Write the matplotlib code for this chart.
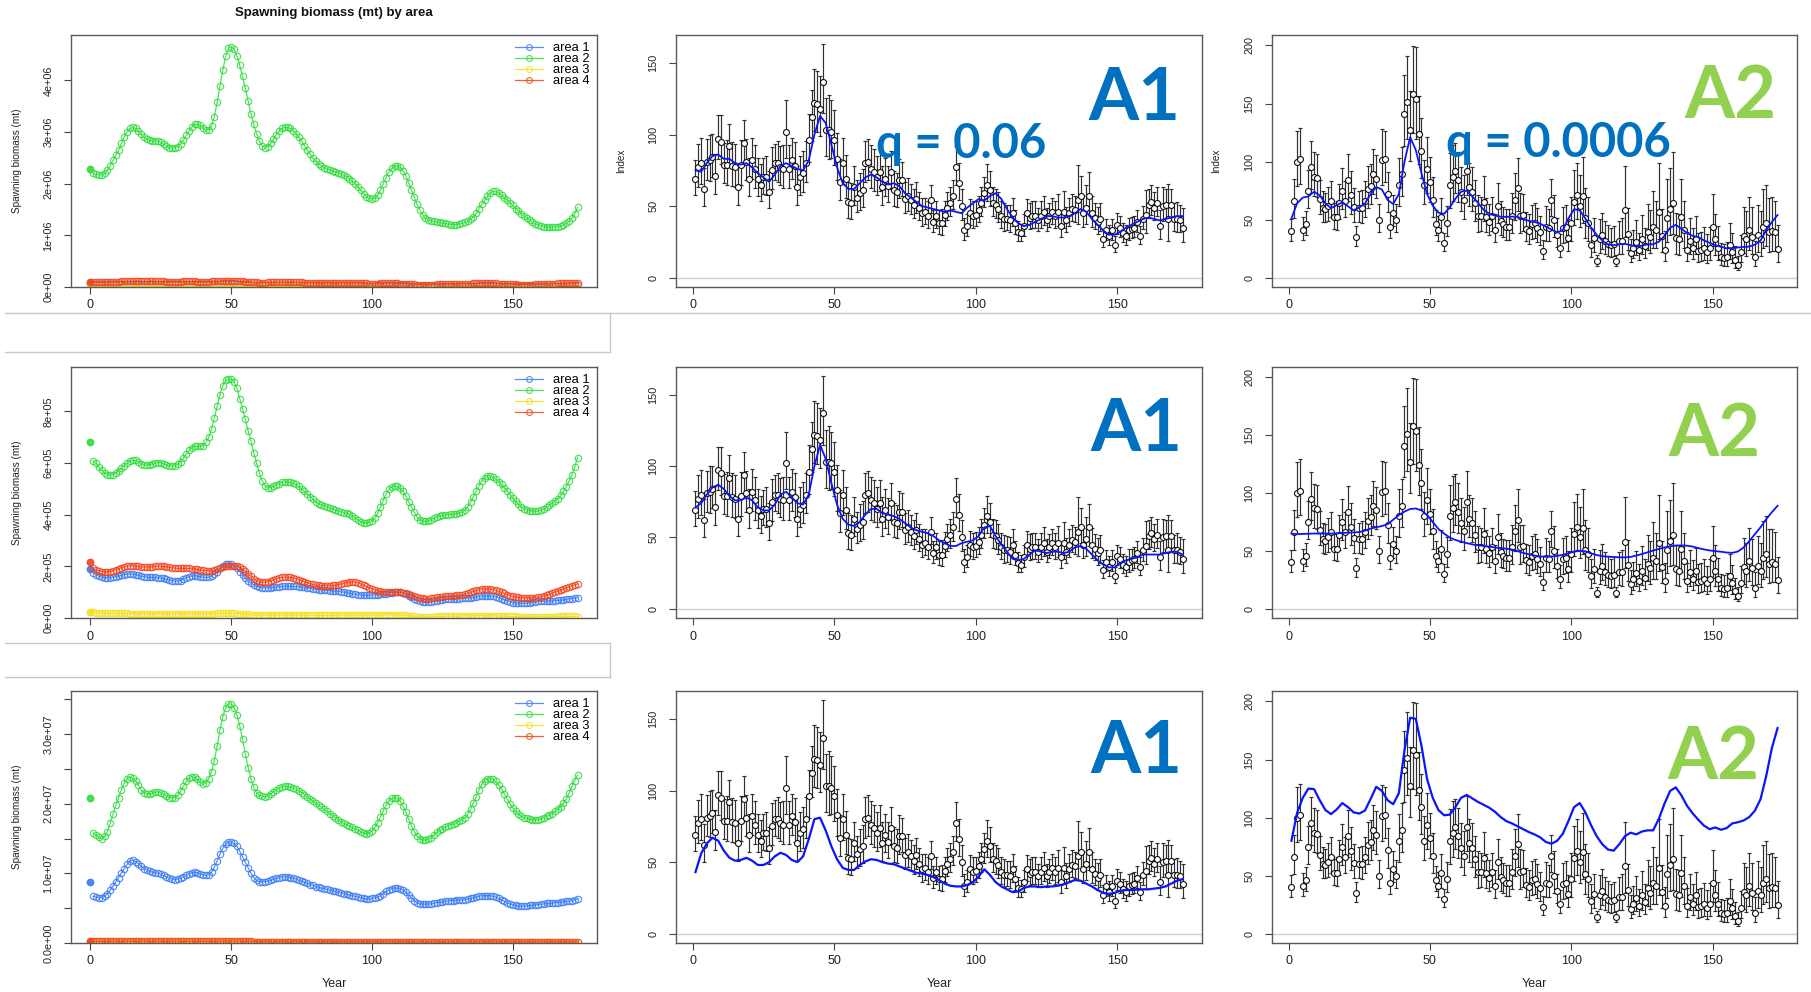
import numpy as np
import matplotlib
matplotlib.use("Agg")
import matplotlib.pyplot as plt
from matplotlib.lines import Line2D

plt.rcParams["font.family"] = ["Liberation Sans", "DejaVu Sans"]

W, H = 1811, 992

years = np.arange(1, 174)          # model / survey years
fit_years = np.arange(1, 174, 2)   # expected index, every second year

area_names = ["area 1", "area 2", "area 3", "area 4"]
area_colors = ["#3b7cf4", "#2fdc3c", "#f3e01c", "#f5431c"]

# ---------------- spawning biomass by area ----------------
# scenario 1, units of 1e5 mt
sb1_virgin = [0.60, 22.8, 0.25, 1.00]
sb1_area1 = [
    0.52, 0.50, 0.49, 0.49, 0.50, 0.51, 0.52, 0.54, 0.55, 0.57,
    0.58, 0.59, 0.60, 0.60, 0.60, 0.59, 0.58, 0.57, 0.56, 0.56,
    0.56, 0.56, 0.56, 0.56, 0.55, 0.54, 0.53, 0.52, 0.51, 0.51,
    0.51, 0.52, 0.53, 0.54, 0.55, 0.55, 0.55, 0.54, 0.54, 0.53,
    0.53, 0.54, 0.56, 0.59, 0.62, 0.66, 0.69, 0.71, 0.72, 0.72,
    0.70, 0.67, 0.63, 0.59, 0.55, 0.51, 0.48, 0.46, 0.45, 0.44,
    0.44, 0.44, 0.45, 0.46, 0.47, 0.47, 0.48, 0.48, 0.48, 0.48,
    0.48, 0.47, 0.46, 0.45, 0.44, 0.43, 0.42, 0.41, 0.40, 0.39,
    0.38, 0.38, 0.37, 0.37, 0.36, 0.36, 0.35, 0.35, 0.35, 0.34,
    0.34, 0.33, 0.33, 0.32, 0.31, 0.30, 0.30, 0.29, 0.29, 0.29,
    0.29, 0.30, 0.31, 0.32, 0.33, 0.34, 0.35, 0.35, 0.35, 0.34,
    0.32, 0.30, 0.28, 0.26, 0.24, 0.23, 0.22, 0.21, 0.21, 0.21,
    0.21, 0.22, 0.22, 0.23, 0.23, 0.23, 0.24, 0.24, 0.24, 0.25,
    0.25, 0.25, 0.26, 0.26, 0.27, 0.28, 0.29, 0.30, 0.30, 0.31,
    0.31, 0.30, 0.30, 0.29, 0.28, 0.26, 0.25, 0.24, 0.23, 0.22,
    0.21, 0.21, 0.20, 0.20, 0.20, 0.20, 0.21, 0.21, 0.21, 0.22,
    0.22, 0.23, 0.23, 0.24, 0.24, 0.25, 0.25, 0.26, 0.27, 0.27,
    0.28, 0.29, 0.30]
sb1_area2 = [
    22.0, 21.8, 21.7, 21.7, 22.0, 22.6, 23.5, 24.5, 25.5, 26.5,
    27.8, 29.1, 30.1, 30.7, 30.9, 30.7, 30.2, 29.6, 29.0, 28.6,
    28.4, 28.3, 28.3, 28.2, 28.0, 27.7, 27.3, 27.0, 26.9, 27.0,
    27.2, 27.7, 28.5, 29.4, 30.2, 31.0, 31.5, 31.5, 31.3, 30.8,
    30.4, 30.5, 31.2, 33.0, 35.8, 39.0, 42.0, 44.7, 46.2, 46.5,
    46.0, 44.7, 43.0, 40.8, 38.5, 36.0, 33.5, 31.5, 29.7, 28.2,
    27.3, 27.0, 27.2, 27.8, 28.6, 29.5, 30.2, 30.7, 30.9, 30.9,
    30.7, 30.3, 29.7, 29.0, 28.2, 27.4, 26.5, 25.7, 25.0, 24.4,
    23.8, 23.4, 23.1, 22.9, 22.7, 22.5, 22.3, 22.1, 21.9, 21.6,
    21.3, 21.0, 20.5, 20.0, 19.4, 18.7, 18.1, 17.5, 17.2, 17.0,
    17.2, 17.8, 18.8, 20.0, 21.2, 22.3, 23.0, 23.4, 23.5, 23.2,
    22.5, 21.5, 20.2, 18.8, 17.4, 16.0, 14.9, 14.0, 13.4, 13.0,
    12.8, 12.7, 12.6, 12.5, 12.4, 12.3, 12.2, 12.1, 12.1, 12.1,
    12.2, 12.3, 12.5, 12.7, 13.1, 13.6, 14.3, 15.2, 16.0, 16.8,
    17.6, 18.2, 18.5, 18.5, 18.2, 17.8, 17.3, 16.8, 16.3, 15.8,
    15.2, 14.7, 14.2, 13.7, 13.3, 12.9, 12.5, 12.2, 12.0, 11.8,
    11.7, 11.6, 11.6, 11.6, 11.6, 11.7, 11.8, 12.0, 12.3, 12.8,
    13.4, 14.2, 15.4]
sb1_area3 = [
    .20, .19, .19, .18, .18, .18, .18, .18, .18, .19,
    .19, .19, .19, .19, .19, .19, .18, .18, .18, .18,
    .18, .18, .18, .18, .18, .18, .18, .17, .17, .17,
    .17, .17, .17, .17, .17, .17, .17, .17, .17, .17,
    .17, .17, .18, .18, .18, .19, .19, .19, .19, .19,
    .19, .18, .18, .17, .16, .15, .14, .13, .13, .12,
    .12, .12, .12, .12, .12, .12, .12, .12, .12, .12,
    .12, .12, .12, .12, .11, .11, .11, .11, .11, .11,
    .11, .11, .11, .11, .11, .11, .11, .11, .11, .11,
    .12, .12, .12, .12, .12, .11, .11, .11, .11, .11,
    .11, .11, .12, .12, .12, .12, .12, .12, .12, .11,
    .10, .09, .08, .07, .06, .06, .05, .05, .05, .05,
    .05, .05, .05, .06, .06, .06, .06, .06, .07, .07,
    .07, .07, .07, .07, .08, .08, .08, .08, .08, .08,
    .08, .08, .08, .07, .07, .07, .06, .06, .06, .06,
    .05, .05, .05, .05, .05, .05, .05, .05, .05, .05,
    .05, .05, .05, .05, .05, .05, .05, .05, .05, .05,
    .05, .05, .05]
sb1_area4 = [
    0.92, 0.90, 0.89, 0.89, 0.90, 0.92, 0.95, 0.98, 1.01, 1.04,
    1.07, 1.10, 1.12, 1.13, 1.13, 1.12, 1.10, 1.08, 1.07, 1.07,
    1.08, 1.09, 1.10, 1.10, 1.09, 1.08, 1.06, 1.05, 1.04, 1.04,
    1.05, 1.06, 1.07, 1.08, 1.08, 1.08, 1.07, 1.06, 1.05, 1.04,
    1.04, 1.05, 1.07, 1.10, 1.14, 1.18, 1.21, 1.23, 1.24, 1.24,
    1.22, 1.19, 1.14, 1.08, 1.02, 0.97, 0.93, 0.90, 0.88, 0.87,
    0.87, 0.87, 0.88, 0.90, 0.92, 0.94, 0.95, 0.96, 0.96, 0.96,
    0.95, 0.94, 0.92, 0.90, 0.88, 0.86, 0.84, 0.82, 0.80, 0.79,
    0.78, 0.77, 0.77, 0.77, 0.77, 0.77, 0.78, 0.79, 0.80, 0.81,
    0.82, 0.82, 0.81, 0.79, 0.76, 0.73, 0.70, 0.68, 0.66, 0.65,
    0.65, 0.66, 0.68, 0.70, 0.72, 0.73, 0.73, 0.72, 0.70, 0.67,
    0.63, 0.59, 0.55, 0.52, 0.49, 0.47, 0.46, 0.45, 0.45, 0.46,
    0.47, 0.48, 0.49, 0.50, 0.51, 0.52, 0.53, 0.54, 0.55, 0.56,
    0.57, 0.58, 0.60, 0.62, 0.65, 0.68, 0.71, 0.73, 0.75, 0.76,
    0.76, 0.75, 0.73, 0.70, 0.67, 0.63, 0.59, 0.56, 0.53, 0.51,
    0.49, 0.48, 0.47, 0.47, 0.47, 0.47, 0.48, 0.49, 0.50, 0.52,
    0.54, 0.57, 0.60, 0.63, 0.66, 0.69, 0.72, 0.75, 0.78, 0.80,
    0.82, 0.84, 0.86]

# scenario 2, units of 1e5 mt
sb2_virgin = [1.90, 6.80, 0.25, 2.17]
sb2_area1 = [
    1.75, 1.68, 1.62, 1.58, 1.56, 1.55, 1.56, 1.58, 1.60, 1.63,
    1.66, 1.68, 1.70, 1.71, 1.70, 1.68, 1.65, 1.62, 1.60, 1.58,
    1.57, 1.57, 1.57, 1.56, 1.55, 1.53, 1.50, 1.47, 1.44, 1.43,
    1.43, 1.45, 1.50, 1.55, 1.60, 1.63, 1.64, 1.63, 1.60, 1.58,
    1.57, 1.58, 1.62, 1.70, 1.80, 1.92, 2.02, 2.08, 2.10, 2.08,
    2.02, 1.92, 1.80, 1.68, 1.55, 1.44, 1.35, 1.28, 1.23, 1.20,
    1.18, 1.17, 1.17, 1.18, 1.19, 1.20, 1.21, 1.22, 1.23, 1.23,
    1.23, 1.22, 1.22, 1.21, 1.20, 1.19, 1.17, 1.15, 1.13, 1.11,
    1.10, 1.09, 1.08, 1.07, 1.06, 1.05, 1.04, 1.03, 1.02, 1.00,
    0.98, 0.96, 0.94, 0.92, 0.90, 0.89, 0.88, 0.88, 0.88, 0.89,
    0.90, 0.91, 0.92, 0.93, 0.94, 0.96, 0.98, 1.00, 1.01, 1.00,
    0.97, 0.92, 0.86, 0.80, 0.74, 0.69, 0.65, 0.63, 0.62, 0.62,
    0.63, 0.65, 0.67, 0.69, 0.71, 0.72, 0.73, 0.74, 0.75, 0.75,
    0.75, 0.76, 0.77, 0.78, 0.79, 0.80, 0.82, 0.84, 0.85, 0.86,
    0.86, 0.85, 0.84, 0.82, 0.79, 0.75, 0.71, 0.67, 0.63, 0.60,
    0.58, 0.57, 0.57, 0.57, 0.58, 0.60, 0.62, 0.63, 0.64, 0.65,
    0.65, 0.65, 0.66, 0.66, 0.67, 0.68, 0.69, 0.70, 0.72, 0.74,
    0.75, 0.77, 0.78]
sb2_area2 = [
    6.09, 6.00, 5.83, 5.72, 5.62, 5.55, 5.53, 5.55, 5.62, 5.70,
    5.80, 5.90, 6.00, 6.07, 6.10, 6.10, 6.05, 5.98, 5.93, 5.92,
    5.94, 5.97, 6.00, 6.02, 6.02, 5.98, 5.93, 5.90, 5.88, 5.90,
    5.95, 6.05, 6.20, 6.35, 6.50, 6.60, 6.65, 6.65, 6.65, 6.68,
    6.80, 7.00, 7.30, 7.75, 8.20, 8.65, 9.00, 9.20, 9.25, 9.25,
    9.15, 8.90, 8.50, 8.10, 7.70, 7.25, 6.85, 6.40, 6.00, 5.60,
    5.30, 5.12, 5.05, 5.05, 5.10, 5.15, 5.20, 5.25, 5.27, 5.27,
    5.25, 5.22, 5.17, 5.10, 5.00, 4.90, 4.80, 4.70, 4.60, 4.50,
    4.43, 4.38, 4.34, 4.30, 4.26, 4.22, 4.18, 4.14, 4.11, 4.08,
    4.05, 4.02, 3.95, 3.88, 3.80, 3.73, 3.68, 3.68, 3.70, 3.76,
    3.87, 4.05, 4.30, 4.55, 4.80, 4.98, 5.08, 5.12, 5.10, 5.02,
    4.90, 4.72, 4.50, 4.30, 4.10, 3.92, 3.80, 3.74, 3.74, 3.76,
    3.80, 3.86, 3.92, 3.96, 3.98, 3.99, 4.00, 4.01, 4.02, 4.04,
    4.06, 4.10, 4.18, 4.30, 4.48, 4.70, 4.92, 5.12, 5.30, 5.42,
    5.50, 5.50, 5.45, 5.38, 5.28, 5.17, 5.05, 4.92, 4.78, 4.65,
    4.52, 4.40, 4.30, 4.24, 4.19, 4.16, 4.14, 4.13, 4.14, 4.17,
    4.22, 4.28, 4.36, 4.44, 4.52, 4.62, 4.75, 4.90, 5.08, 5.30,
    5.55, 5.85, 6.20]
sb2_area3 = [
    .22, .21, .20, .19, .19, .18, .18, .18, .18, .18,
    .18, .18, .18, .17, .17, .17, .17, .17, .16, .16,
    .16, .16, .17, .17, .17, .17, .17, .16, .16, .16,
    .16, .16, .16, .16, .16, .16, .16, .16, .16, .16,
    .16, .17, .17, .17, .18, .18, .18, .18, .18, .18,
    .18, .17, .17, .16, .15, .14, .13, .12, .12, .11,
    .11, .11, .11, .11, .11, .11, .12, .12, .12, .12,
    .12, .12, .11, .11, .11, .11, .11, .10, .10, .10,
    .10, .10, .10, .10, .10, .11, .11, .11, .11, .12,
    .12, .12, .12, .12, .12, .12, .12, .11, .11, .11,
    .11, .11, .12, .12, .12, .13, .13, .13, .13, .12,
    .11, .10, .08, .07, .06, .05, .05, .05, .05, .05,
    .05, .05, .06, .06, .06, .06, .07, .07, .07, .07,
    .07, .08, .08, .08, .08, .09, .09, .09, .09, .09,
    .09, .09, .08, .08, .08, .07, .07, .06, .06, .06,
    .06, .05, .05, .05, .05, .05, .05, .05, .05, .05,
    .05, .05, .05, .05, .05, .06, .06, .06, .06, .06,
    .06, .06, .05]
sb2_area4 = [
    1.92, 1.86, 1.82, 1.80, 1.79, 1.79, 1.80, 1.83, 1.87, 1.91,
    1.95, 1.98, 2.00, 2.02, 2.03, 2.02, 2.00, 1.98, 1.97, 1.97,
    1.98, 1.99, 2.00, 2.01, 2.01, 2.00, 1.98, 1.96, 1.94, 1.93,
    1.92, 1.92, 1.92, 1.92, 1.92, 1.91, 1.90, 1.88, 1.86, 1.84,
    1.83, 1.82, 1.82, 1.84, 1.88, 1.93, 1.98, 2.01, 2.03, 2.03,
    2.02, 2.00, 1.96, 1.90, 1.82, 1.72, 1.62, 1.52, 1.45, 1.41,
    1.39, 1.39, 1.41, 1.44, 1.48, 1.52, 1.55, 1.57, 1.58, 1.58,
    1.57, 1.55, 1.52, 1.49, 1.45, 1.41, 1.37, 1.33, 1.30, 1.28,
    1.26, 1.25, 1.25, 1.25, 1.25, 1.26, 1.27, 1.29, 1.31, 1.34,
    1.37, 1.39, 1.40, 1.39, 1.36, 1.32, 1.27, 1.22, 1.17, 1.13,
    1.09, 1.06, 1.04, 1.02, 1.01, 1.00, 1.00, 1.00, 1.00, 1.00,
    0.98, 0.96, 0.93, 0.89, 0.85, 0.81, 0.78, 0.76, 0.75, 0.75,
    0.76, 0.78, 0.80, 0.82, 0.83, 0.84, 0.85, 0.86, 0.87, 0.88,
    0.89, 0.90, 0.92, 0.95, 0.99, 1.03, 1.07, 1.10, 1.12, 1.13,
    1.13, 1.12, 1.10, 1.07, 1.03, 0.99, 0.95, 0.91, 0.87, 0.84,
    0.82, 0.80, 0.79, 0.78, 0.78, 0.78, 0.78, 0.79, 0.80, 0.82,
    0.85, 0.88, 0.92, 0.96, 1.00, 1.04, 1.08, 1.12, 1.16, 1.20,
    1.24, 1.28, 1.32]

# scenario 3, units of 1e6 mt
sb3_virgin = [8.8, 20.9, 0.10, 0.25]
sb3_area1 = [
    6.7, 6.6, 6.5, 6.5, 6.7, 7.1, 7.6, 8.2, 8.8, 9.4,
    10.1, 10.7, 11.3, 11.8, 11.9, 11.7, 11.4, 11.0, 10.7, 10.5,
    10.3, 10.2, 10.1, 10.0, 9.9, 9.7, 9.5, 9.3, 9.2, 9.1,
    9.2, 9.3, 9.5, 9.7, 9.9, 10.1, 10.2, 10.1, 9.9, 9.8,
    9.7, 9.8, 10.2, 10.9, 11.8, 12.8, 13.6, 14.2, 14.5, 14.5,
    14.3, 13.9, 13.2, 12.4, 11.6, 10.8, 10.0, 9.4, 9.0, 8.8,
    8.8, 8.8, 8.9, 9.0, 9.2, 9.3, 9.4, 9.5, 9.5, 9.5,
    9.4, 9.3, 9.2, 9.0, 8.9, 8.7, 8.6, 8.4, 8.3, 8.1,
    8.0, 7.9, 7.8, 7.7, 7.6, 7.5, 7.4, 7.3, 7.2, 7.1,
    7.0, 6.9, 6.8, 6.7, 6.6, 6.5, 6.4, 6.3, 6.3, 6.4,
    6.5, 6.6, 6.8, 7.1, 7.4, 7.6, 7.8, 7.9, 7.9, 7.8,
    7.6, 7.3, 6.9, 6.5, 6.1, 5.8, 5.6, 5.6, 5.6, 5.6,
    5.6, 5.7, 5.8, 5.9, 5.9, 6.0, 6.0, 6.1, 6.1, 6.2,
    6.2, 6.2, 6.2, 6.3, 6.4, 6.5, 6.6, 6.7, 6.8, 6.8,
    6.8, 6.8, 6.7, 6.6, 6.4, 6.2, 6.0, 5.8, 5.6, 5.5,
    5.4, 5.3, 5.3, 5.3, 5.3, 5.4, 5.4, 5.5, 5.5, 5.6,
    5.6, 5.7, 5.7, 5.7, 5.8, 5.8, 5.9, 5.9, 6.0, 6.0,
    6.1, 6.2, 6.3]
sb3_area2 = [
    15.8, 15.5, 15.2, 15.0, 15.3, 16.0, 17.2, 18.5, 19.8, 20.9,
    22.0, 23.0, 23.6, 23.8, 23.7, 23.3, 22.7, 22.0, 21.6, 21.4,
    21.4, 21.5, 21.7, 21.7, 21.6, 21.4, 21.1, 20.9, 20.8, 20.9,
    21.2, 21.8, 22.5, 23.2, 23.7, 23.9, 23.8, 23.5, 23.1, 22.9,
    23.0, 23.6, 24.6, 26.2, 28.3, 30.6, 32.5, 33.8, 34.4, 34.3,
    33.8, 32.8, 31.2, 29.3, 27.2, 25.2, 23.6, 22.4, 21.6, 21.2,
    21.1, 21.0, 21.1, 21.4, 21.7, 22.0, 22.2, 22.4, 22.5, 22.5,
    22.4, 22.3, 22.1, 21.9, 21.6, 21.3, 21.0, 20.7, 20.4, 20.1,
    19.8, 19.5, 19.2, 18.9, 18.6, 18.3, 18.0, 17.7, 17.4, 17.2,
    17.0, 16.8, 16.6, 16.4, 16.2, 16.0, 15.8, 15.7, 15.8, 16.1,
    16.6, 17.3, 18.1, 19.0, 19.8, 20.4, 20.8, 20.9, 20.8, 20.4,
    19.7, 18.8, 17.8, 16.8, 16.0, 15.4, 15.0, 14.8, 14.8, 14.9,
    15.1, 15.5, 15.9, 16.2, 16.4, 16.6, 16.8, 17.0, 17.1, 17.3,
    17.5, 17.7, 18.0, 18.5, 19.2, 20.1, 21.0, 22.0, 22.8, 23.3,
    23.6, 23.6, 23.5, 23.2, 22.7, 22.1, 21.4, 20.7, 20.0, 19.4,
    18.9, 18.5, 18.2, 18.0, 17.9, 17.8, 17.7, 17.7, 17.7, 17.8,
    18.0, 18.2, 18.4, 18.6, 18.9, 19.2, 19.6, 20.1, 20.7, 21.5,
    22.5, 23.3, 24.1]
sb3_area3 = [
    .10, .10, .10, .09, .09, .09, .09, .09, .09, .09,
    .09, .10, .10, .10, .10, .10, .10, .09, .09, .09,
    .09, .09, .09, .09, .09, .09, .09, .09, .09, .09,
    .09, .09, .09, .09, .09, .09, .09, .09, .09, .09,
    .09, .09, .09, .09, .10, .10, .10, .11, .11, .11,
    .11, .10, .10, .10, .09, .09, .08, .08, .08, .08,
    .08, .08, .08, .08, .08, .08, .08, .08, .08, .08,
    .08, .08, .08, .08, .08, .08, .08, .07, .07, .07,
    .07, .07, .07, .07, .07, .07, .07, .07, .07, .07,
    .07, .07, .07, .07, .07, .07, .07, .07, .07, .07,
    .07, .07, .07, .07, .07, .07, .07, .07, .07, .07,
    .07, .06, .06, .06, .06, .06, .06, .06, .06, .06,
    .06, .06, .06, .06, .06, .06, .06, .06, .06, .06,
    .06, .06, .06, .06, .06, .06, .06, .06, .06, .06,
    .06, .06, .06, .06, .06, .06, .06, .06, .06, .06,
    .05, .05, .05, .05, .05, .05, .05, .05, .05, .05,
    .05, .05, .05, .05, .05, .05, .05, .05, .05, .05,
    .05, .05, .05]
sb3_area4 = [
    .22, .22, .22, .22, .22, .23, .23, .24, .24, .25,
    .25, .26, .26, .26, .26, .26, .25, .25, .25, .25,
    .25, .25, .25, .25, .25, .25, .24, .24, .24, .24,
    .24, .24, .24, .24, .24, .24, .24, .24, .23, .23,
    .23, .23, .23, .24, .25, .26, .27, .27, .28, .28,
    .27, .27, .26, .25, .24, .23, .22, .21, .21, .20,
    .20, .20, .20, .21, .21, .21, .21, .21, .21, .21,
    .21, .21, .21, .20, .20, .20, .20, .19, .19, .19,
    .19, .19, .19, .19, .19, .19, .19, .19, .19, .19,
    .19, .19, .19, .19, .18, .18, .18, .18, .18, .18,
    .18, .18, .18, .18, .18, .18, .18, .18, .18, .18,
    .17, .17, .16, .16, .15, .15, .15, .15, .15, .15,
    .15, .15, .15, .15, .15, .15, .15, .15, .16, .16,
    .16, .16, .16, .16, .16, .17, .17, .17, .17, .17,
    .17, .17, .17, .17, .16, .16, .16, .15, .15, .15,
    .14, .14, .14, .14, .14, .14, .14, .14, .14, .14,
    .14, .15, .15, .15, .15, .15, .15, .16, .16, .16,
    .16, .16, .17]

# ---------------- survey indices ----------------
a1_obs = [
    69, 77, 80, 62, 81, 82, 84, 71, 97, 95,
    79, 79, 92, 78, 77, 63, 79, 94, 81, 69,
    82, 76, 69, 65, 70, 70, 60, 75, 80, 80,
    77, 76, 102, 76, 82, 78, 63, 70, 73, 80,
    96, 112, 122, 121, 118, 137, 103, 103, 102, 96,
    83, 67, 80, 69, 53, 52, 63, 56, 59, 61,
    80, 81, 76, 74, 70, 74, 63, 69, 64, 74,
    61, 60, 68, 68, 55, 57, 54, 51, 55, 49,
    45, 46, 43, 54, 39, 43, 38, 38, 44, 49,
    52, 57, 77, 66, 50, 33, 36, 45, 43, 44,
    47, 52, 59, 65, 61, 52, 51, 48, 43, 41,
    41, 40, 45, 38, 32, 31, 36, 45, 42, 43,
    43, 40, 43, 46, 40, 43, 46, 43, 46, 36,
    46, 40, 45, 48, 47, 54, 57, 45, 49, 57,
    45, 42, 39, 41, 27, 33, 29, 33, 23, 37,
    35, 31, 29, 33, 34, 35, 39, 29, 41, 44,
    51, 53, 49, 52, 36, 50, 51, 41, 51, 41,
    41, 40, 35]
a1_se = [
    .09, .10, .10, .11, .09, .10, .09, .10, .08, .09,
    .09, .10, .08, .10, .10, .11, .10, .08, .09, .10,
    .09, .10, .10, .10, .09, .10, .11, .10, .08, .09,
    .09, .10, .10, .10, .09, .10, .11, .10, .10, .09,
    .09, .08, .09, .09, .09, .09, .10, .11, .10, .10,
    .10, .11, .10, .11, .12, .12, .11, .10, .11, .11,
    .09, .09, .10, .10, .10, .10, .11, .10, .10, .09,
    .10, .10, .10, .09, .10, .10, .10, .10, .10, .10,
    .11, .10, .11, .09, .10, .11, .11, .12, .10, .10,
    .10, .09, .09, .10, .11, .12, .11, .10, .11, .10,
    .10, .10, .09, .10, .10, .10, .10, .11, .11, .12,
    .11, .12, .11, .11, .11, .10, .11, .10, .11, .11,
    .11, .10, .11, .11, .10, .10, .10, .11, .12, .12,
    .14, .11, .11, .10, .10, .19, .11, .12, .14, .13,
    .12, .11, .12, .12, .12, .11, .12, .11, .12, .10,
    .11, .11, .12, .12, .11, .11, .10, .11, .10, .17,
    .10, .10, .10, .10, .14, .12, .10, .24, .10, .12,
    .13, .12, .17]
a2_obs = [
    40, 66, 100, 102, 41, 46, 75, 95, 87, 86,
    68, 60, 59, 62, 66, 52, 52, 64, 75, 66,
    84, 71, 61, 35, 60, 60, 66, 76, 79, 89,
    85, 50, 101, 102, 72, 44, 56, 50, 80, 89,
    141, 151, 127, 158, 154, 124, 109, 80, 94, 82,
    67, 46, 41, 52, 30, 47, 80, 87, 92, 84,
    74, 67, 92, 78, 74, 64, 53, 53, 65, 52,
    48, 53, 41, 62, 49, 46, 44, 44, 53, 67,
    77, 53, 54, 42, 40, 46, 47, 43, 39, 23,
    44, 43, 67, 50, 37, 26, 43, 44, 34, 47,
    65, 71, 62, 70, 51, 47, 28, 34, 14, 33,
    37, 32, 29, 28, 29, 14, 32, 32, 58, 38,
    21, 26, 31, 24, 33, 27, 39, 35, 44, 41,
    57, 36, 24, 51, 59, 64, 34, 33, 52, 41,
    24, 32, 26, 33, 23, 24, 26, 22, 26, 44,
    33, 26, 18, 17, 18, 28, 22, 15, 11, 22,
    36, 33, 41, 35, 18, 37, 33, 44, 47, 39,
    40, 39, 25]
a2_se = [
    .12, .13, .12, .12, .12, .11, .11, .11, .11, .11,
    .11, .11, .11, .12, .12, .11, .12, .12, .12, .12,
    .12, .13, .12, .12, .11, .12, .12, .12, .11, .11,
    .11, .12, .12, .11, .12, .13, .12, .12, .13, .12,
    .11, .12, .12, .12, .13, .12, .12, .12, .13, .12,
    .13, .12, .13, .14, .13, .14, .15, .14, .12, .13,
    .13, .14, .13, .12, .13, .14, .15, .14, .15, .14,
    .14, .14, .15, .14, .15, .14, .15, .15, .16, .15,
    .15, .16, .15, .15, .16, .16, .16, .17, .16, .17,
    .17, .16, .12, .18, .17, .19, .18, .18, .20, .20,
    .18, .17, .18, .20, .21, .20, .22, .21, .16, .22,
    .21, .22, .23, .22, .22, .16, .22, .24, .26, .23,
    .24, .23, .24, .24, .25, .24, .25, .26, .27, .24,
    .28, .25, .26, .26, .24, .27, .25, .26, .25, .24,
    .25, .24, .25, .24, .26, .25, .26, .27, .26, .25,
    .26, .27, .26, .27, .28, .27, .28, .30, .27, .26,
    .27, .28, .27, .28, .29, .27, .28, .28, .27, .29,
    .28, .27, .30]

# expected index from each scenario (odd years)
a1_fit = [
    [75, 74, 80, 85, 86, 83, 83, 80, 79, 80,
     77, 73, 70, 67, 72, 78, 80, 78, 76, 75,
     82, 100, 113, 108, 93, 77, 66, 62, 62, 66,
     70, 72, 70, 67, 65, 66, 64, 59, 56, 53,
     50, 49, 48, 47, 46, 47, 46, 45, 49, 52,
     55, 54, 57, 59, 55, 48, 42, 38, 36, 37,
     39, 41, 43, 43, 42, 42, 43, 45, 48, 46,
     41, 37, 33, 30, 30, 32, 35, 37, 39, 41,
     42, 41, 40, 41, 42, 43, 43],
    [71, 74, 80, 85, 87, 84, 79, 76, 76, 78,
     76, 71, 69, 69, 73, 80, 82, 78, 74, 73,
     80, 100, 115, 105, 88, 73, 63, 59, 58, 61,
     66, 70, 70, 67, 66, 65, 63, 60, 57, 55,
     54, 53, 51, 48, 46, 44, 44, 46, 47, 48,
     51, 57, 58, 51, 45, 40, 35, 34, 35, 38,
     41, 40, 39, 40, 40, 39, 40, 43, 44, 42,
     38, 34, 31, 29, 29, 32, 34, 35, 36, 38,
     38, 38, 38, 39, 40, 40, 38],
    [43, 56, 63, 67, 65, 58, 53, 51, 51.5, 53,
     51, 48, 48, 50, 54, 56.5, 55, 51.5, 50, 54,
     66, 80, 81, 72, 61, 52, 46, 44.5, 44.5, 48,
     50.5, 52, 51.5, 50, 49, 48.5, 47, 45.5, 44, 42.5,
     42, 41, 39.5, 37.5, 35, 33.5, 33, 33, 34, 36,
     40, 45, 41, 36, 33, 31, 29, 29.5, 32, 33,
     33, 32.5, 33, 33, 33.5, 34.5, 36, 37.5, 37, 35,
     33, 30.5, 28.5, 27.8, 28.5, 30, 30.5, 30.5, 30.8, 31,
     31, 31.5, 32, 33, 35, 37, 38],
]
a2_fit = [
    [51, 64, 69, 70, 74, 71, 64, 60, 62.4, 65,
     61.5, 58, 60.5, 64, 72, 78, 76, 67, 63.5, 72,
     100, 121, 110, 90, 72, 62, 56, 55, 60.5, 68,
     74, 75, 70, 64.5, 58.5, 55, 53.5, 52.5, 52.4, 52.6,
     52.5, 50.2, 49, 48, 46.5, 44, 41.5, 39, 41, 51,
     59, 58, 51, 43, 37, 32, 28.5, 28, 28.8, 29.2,
     28, 26.8, 27.5, 28.8, 28.8, 31, 36, 43, 45.5, 42,
     38.5, 36, 35, 32, 30, 28, 26.6, 25.3, 25.5, 26,
     26.5, 26.8, 28.5, 32, 41, 48, 54],
    [65, 64.5, 64.7, 64.9, 65, 65, 65, 65, 65.2, 65.5,
     65.8, 66, 66.3, 67.5, 69.3, 70.5, 71.5, 73, 77, 81,
     84, 86.2, 86.7, 85, 81, 75, 69, 65, 61.5, 59.5,
     58, 56.8, 55.6, 55, 54.3, 53.7, 53, 52.4, 51.9, 51.2,
     49.8, 48.3, 47, 46, 45.2, 45, 45.2, 45.7, 46.6, 48,
     49.4, 50, 49.7, 47.8, 46.4, 45.5, 45, 44.7, 44.5, 44.4,
     44.8, 46, 47.3, 48.8, 50.3, 51.7, 53, 54, 54.6, 54.7,
     54.5, 53.7, 52.4, 51.3, 50.4, 49.8, 49.3, 48.6, 48.3, 49.5,
     53, 58.5, 64.5, 70.5, 77.5, 83.5, 89],
    [80, 104, 117, 125, 124.5, 115, 106.5, 103, 107, 112.5,
     109, 104.5, 103.5, 106, 116, 126.5, 123, 115, 111.5, 121,
     158, 186, 185, 162, 133, 117, 106.5, 102, 102.5, 109,
     117, 119.5, 116.5, 113.5, 111, 108.5, 105, 100.5, 97, 95,
     92.5, 90, 87.5, 85.5, 83, 79, 77.5, 80, 86, 97,
     109, 112.5, 104.5, 93.5, 84, 77, 72.5, 71.5, 77, 84,
     87, 85.5, 88, 89, 89, 99, 112, 123, 126, 119,
     110, 103.5, 98, 93, 90, 91.5, 89.5, 91, 95, 96,
     97.5, 100.5, 106, 116, 136, 160, 177],
]
q_labels = ["q = 0.06", "q = 0.0006"]

# ---------------- layout ----------------
fig = plt.figure(figsize=(W / 100, H / 100), dpi=100, facecolor="white")

col_px = [(71, 597), (676, 1202), (1272, 1797)]
row_px = [(35, 287), (367, 618), (691, 943)]


def add_ax(col, row):
    x0, x1 = col_px[col]
    y0, y1 = row_px[row]
    return fig.add_axes([x0 / W, 1 - y1 / H, (x1 - x0) / W, (y1 - y0) / H])


def ftext(x, y, s, **kw):
    return fig.text(x / W, 1 - y / H, s, **kw)


def style_axes(ax, yticks, ylabels):
    ax.set_xticks([0, 50, 100, 150])
    ax.set_yticks(yticks)
    ax.set_yticklabels(ylabels, rotation=90, va="center")
    ax.tick_params(axis="both", direction="out", length=5, width=0.8,
                   color="#444444", labelcolor="#222222")
    ax.tick_params(axis="x", labelsize=9, pad=4)
    ax.tick_params(axis="y", labelsize=7.8, pad=7.5)
    for s in ax.spines.values():
        s.set_color("#5a5a5a")
        s.set_linewidth(1.0)


def biomass_panel(ax, series, virgin, scale, ymax, yticks, ylabels):
    for vals, v0, col in zip(series, virgin, area_colors):
        ax.plot(years, np.array(vals) * scale, "-o", color=col, lw=0.9,
                ms=4.6, mfc="none", mew=0.85, alpha=0.85)
        ax.plot([0], [v0 * scale], "o", color=col, ms=4.6, alpha=0.9)
    ax.set_xlim(-6.92, 179.92)
    ax.set_ylim(0, ymax)
    style_axes(ax, yticks, ylabels)
    handles = [Line2D([], [], color=c, marker="o", mfc="none", lw=0.9,
                      ms=4.2, mew=0.8, alpha=0.85) for c in area_colors]
    ax.legend(handles, area_names, loc="upper right", frameon=False,
              fontsize=9.3, handlelength=2.2, handletextpad=0.8,
              labelspacing=-0.08, borderaxespad=0.15)


def index_panel(ax, obs, se, fit, ylim, yticks, lw):
    obs = np.array(obs, dtype=float)
    se = np.array(se, dtype=float)
    lo = obs * np.exp(-1.96 * se)
    hi = obs * np.exp(1.96 * se)
    ax.axhline(0, color="#cfcfcf", lw=1, zorder=0)
    ax.errorbar(years, obs, yerr=[obs - lo, hi - obs], fmt="none",
                ecolor="#303030", elinewidth=0.85, capsize=1.7,
                capthick=0.85, zorder=2)
    ax.plot(years, obs, "o", ms=4.3, mfc="white", mec="#111111", mew=0.8,
            zorder=3)
    ax.plot(fit_years, fit, color="#0a14ff", lw=lw, zorder=4)
    ax.set_xlim(1 - 6.88, 173 + 6.88)
    ax.set_ylim(*ylim)
    style_axes(ax, yticks, [str(t) for t in yticks])


# left column: spawning biomass
ax = add_ax(0, 0)
biomass_panel(ax, [sb1_area1, sb1_area2, sb1_area3, sb1_area4], sb1_virgin,
              1e5, 4.88e6, [0, 1e6, 2e6, 3e6, 4e6],
              ["0e+00", "1e+06", "2e+06", "3e+06", "4e+06"])
ax = add_ax(0, 1)
biomass_panel(ax, [sb2_area1, sb2_area2, sb2_area3, sb2_area4], sb2_virgin,
              1e5, 9.72e5, [0, 2e5, 4e5, 6e5, 8e5],
              ["0e+00", "2e+05", "4e+05", "6e+05", "8e+05"])
ax = add_ax(0, 2)
biomass_panel(ax, [sb3_area1, sb3_area2, sb3_area3, sb3_area4], sb3_virgin,
              1e6, 3.62e7, [0, 5e6, 1e7, 1.5e7, 2e7, 2.5e7, 3e7, 3.5e7],
              ["0.0e+00", "", "1.0e+07", "", "2.0e+07", "", "3.0e+07", ""])

# middle and right columns: survey indices
for r in range(3):
    lw = 1.6 if r == 2 else 1.3
    ax = add_ax(1, r)
    index_panel(ax, a1_obs, a1_se, a1_fit[r], (-6.5, 169.5),
                [0, 50, 100, 150], lw)
    ax = add_ax(2, r)
    index_panel(ax, a2_obs, a2_se, a2_fit[r], (-8.0, 209.0),
                [0, 50, 100, 150, 200], lw)

# axis titles
ftext(334, 13, "Spawning biomass (mt) by area", ha="center", va="center",
      fontsize=9.5, weight="bold", color="#111111")
for r in range(3):
    yc = sum(row_px[r]) / 2
    ftext(17, yc, "Spawning biomass (mt)", rotation=90, ha="center",
          va="center", fontsize=7.2, color="#222222")
ftext(621, sum(row_px[0]) / 2, "Index", rotation=90, ha="center",
      va="center", fontsize=7.2, color="#222222")
ftext(1216, sum(row_px[0]) / 2, "Index", rotation=90, ha="center",
      va="center", fontsize=7.2, color="#222222")
for c in range(3):
    ftext(sum(col_px[c]) / 2, 984, "Year", ha="center", va="center",
          fontsize=9, color="#222222")

# area labels and catchability notes
big = dict(family=["Lato", "DejaVu Sans"], weight="bold", ha="center",
           va="baseline")
a1_blue = "#0070c0"
a2_green = "#92d050"
for (x, y), s, c in [((1134, 120), "A1", a1_blue), ((1730, 118), "A2", a2_green),
                     ((1136, 451), "A1", a1_blue), ((1714, 456), "A2", a2_green),
                     ((1136, 773), "A1", a1_blue), ((1713, 779), "A2", a2_green)]:
    ftext(x, y, s, fontsize=52, color=c, **big)
ftext(961, 158, q_labels[0], fontsize=34, color=a1_blue, **big)
ftext(1558, 157, q_labels[1], fontsize=34, color=a1_blue, **big)

# slide separators
sep = dict(color="#c8c8c8", lw=1.0, transform=fig.transFigure)
for (x0, y0), (x1, y1) in [((5, 313), (1811, 313)), ((5, 352), (610, 352)),
                           ((610, 313), (610, 352)), ((5, 643), (610, 643)),
                           ((5, 677), (610, 677)), ((610, 643), (610, 677))]:
    fig.add_artist(Line2D([x0 / W, x1 / W], [1 - y0 / H, 1 - y1 / H], **sep))

fig.savefig("out.png", dpi=100, facecolor="white")
